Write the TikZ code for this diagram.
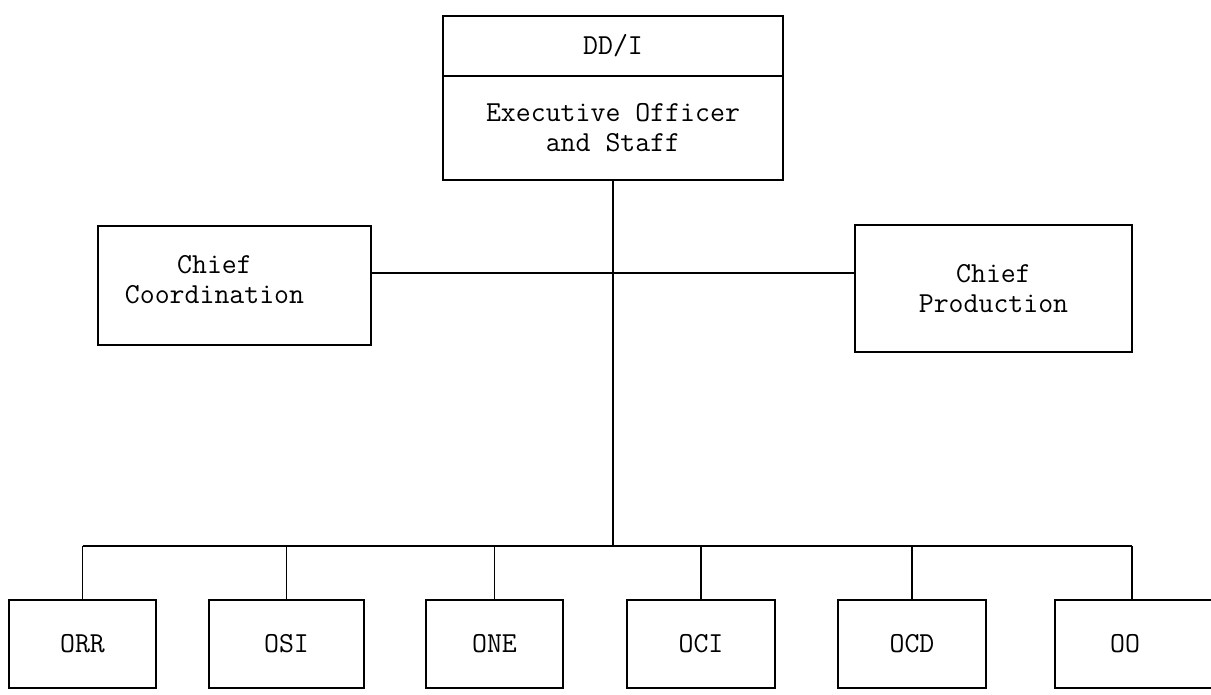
\documentclass[tikz,border=0pt]{standalone}
\usepackage{fontspec}
\begin{document}
\begin{tikzpicture}[x=1pt, y=-1pt,
  orgbox/.style={draw, line width=1.8pt, inner sep=0pt, align=center,
    font=\ttfamily\fontsize{29}{30}\selectfont},
  link/.style={line width=1.8pt}]
\useasboundingbox (0,0) rectangle (1211,694);
\node[orgbox, minimum width=340, minimum height=60] (ddi) at (613,46) {DD/I};
\node[orgbox, minimum width=340, minimum height=104] (exec) at (613,128) {Executive Officer\\and Staff};
\node[orgbox, minimum width=273, minimum height=119,
  label={[orgbox, draw=none, xshift=-20pt, yshift=6pt]center:{Chief\\Coordination}}] (coord) at (234.5,285.5) {};
\node[orgbox, minimum width=277, minimum height=127] (prod) at (993.5,288.5) {Chief\\Production};
\node[orgbox, minimum width=147, minimum height=88] (orr) at (82.5,644) {ORR};
\node[orgbox, minimum width=155, minimum height=88] (osi) at (286.5,644) {OSI};
\node[orgbox, minimum width=137, minimum height=88] (one) at (494.5,644) {ONE};
\node[orgbox, minimum width=148, minimum height=88] (oci) at (701,644) {OCI};
\node[orgbox, minimum width=148, minimum height=88] (ocd) at (912,644) {OCD};
\node[orgbox, minimum width=170, minimum height=88,
  label={[orgbox, draw=none, xshift=-15pt]center:OO}] (oo) at (1140,644) {};
\coordinate (hub) at (613,273);
\coordinate (bus) at (613,546);
\coordinate (oodrop) at (1132,546);
\draw[link] (exec.south) -- (bus);
\draw[link] (coord.east |- hub) -- (prod.west |- hub);
\draw[link] (orr.north |- bus) -- (oodrop);
\foreach \n in {orr,osi,one,oci,ocd}
  \draw[link] (\n.north) -- (\n.north |- bus);
\draw[link] (oodrop) -- (oodrop |- oo.north);
\end{tikzpicture}
\end{document}
